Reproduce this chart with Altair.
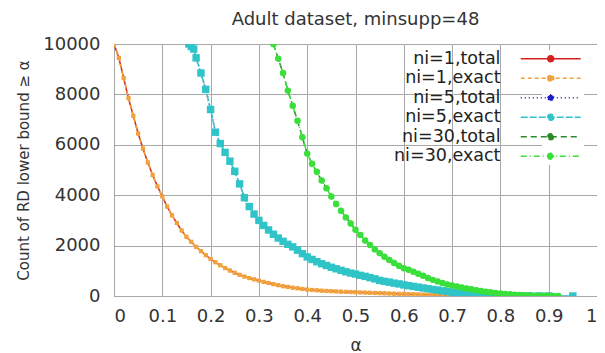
import altair as alt
import pandas as pd

names = ["ni=1,total", "ni=1,exact", "ni=5,total", "ni=5,exact", "ni=30,total", "ni=30,exact"]
colors = ["#d42020", "#f2a23c", "#1c1cc8", "#2ec4c8", "#2a8a2a", "#3ae03a"]
dashes = [[1, 0], [4, 3], [1, 3], [7, 2], [6, 4], [6, 3, 1, 3]]
shapes = ["circle", "square", "circle", "square", "circle", "circle"]
sizes = [12, 18, 30, 55, 30, 42]

x_ticks = [0, 0.1, 0.2, 0.3, 0.4, 0.5, 0.6, 0.7, 0.8, 0.9, 1.0]
y_ticks = [0, 2000, 4000, 6000, 8000, 10000]

alpha_ni1 = [0.00, 0.01, 0.02, 0.03, 0.04, 0.05, 0.06, 0.07, 0.08, 0.09,
             0.10, 0.11, 0.12, 0.13, 0.14, 0.15, 0.16, 0.17, 0.18, 0.19,
             0.20, 0.21, 0.22, 0.23, 0.24, 0.25, 0.26, 0.27, 0.28, 0.29,
             0.30, 0.31, 0.32, 0.33, 0.34, 0.35, 0.36, 0.37, 0.38, 0.39,
             0.40, 0.41, 0.42, 0.43, 0.44, 0.45, 0.46, 0.47, 0.48, 0.49,
             0.50, 0.51, 0.52, 0.53, 0.54, 0.55, 0.56, 0.57, 0.58, 0.59,
             0.60, 0.61, 0.62, 0.63, 0.64, 0.65, 0.66, 0.67, 0.68, 0.69,
             0.70, 0.71, 0.72, 0.73, 0.74, 0.75, 0.76, 0.77, 0.78, 0.79, 0.80]
count_ni1_exact = [10000, 9450, 8650, 7850, 7150, 6450, 5850, 5300, 4800, 4350,
                   3950, 3550, 3200, 2900, 2600, 2350, 2150, 1950, 1780, 1620,
                   1470, 1340, 1220, 1110, 1010, 920, 840, 770, 710, 660,
                   610, 560, 515, 470, 430, 390, 360, 330, 305, 280,
                   255, 240, 225, 212, 200, 190, 180, 172, 165, 158,
                   150, 142, 135, 128, 120, 113, 106, 99, 92, 86,
                   80, 74, 68, 62, 56, 50, 45, 40, 35, 30,
                   26, 22, 19, 16, 13, 11, 9, 7, 5, 3, 2]
count_ni1_total = list(count_ni1_exact)

alpha_ni5 = [0.155, 0.16, 0.165, 0.17, 0.18, 0.19,
             0.20, 0.21, 0.22, 0.23, 0.24, 0.25, 0.26, 0.27, 0.28, 0.29,
             0.30, 0.31, 0.32, 0.33, 0.34, 0.35, 0.36, 0.37, 0.38, 0.39,
             0.40, 0.41, 0.42, 0.43, 0.44, 0.45, 0.46, 0.47, 0.48, 0.49,
             0.50, 0.51, 0.52, 0.53, 0.54, 0.55, 0.56, 0.57, 0.58, 0.59,
             0.60, 0.61, 0.62, 0.63, 0.64, 0.65, 0.66, 0.67, 0.68, 0.69,
             0.70, 0.71, 0.72, 0.73, 0.74, 0.75, 0.76, 0.77, 0.78, 0.79,
             0.80, 0.82, 0.84, 0.86, 0.88, 0.90, 0.95]
count_ni5_exact = [10000, 9900, 9800, 9450, 8850, 8200,
                   7400, 6500, 6050, 5700, 5350, 4950, 4450, 3900, 3550, 3250,
                   3000, 2800, 2620, 2450, 2300, 2170, 2050, 1950, 1820, 1680,
                   1550, 1450, 1360, 1280, 1210, 1140, 1080, 1020, 960, 910,
                   870, 820, 780, 730, 680, 620, 580, 550, 510, 480,
                   440, 410, 380, 350, 320, 290, 260, 235, 205, 180,
                   150, 125, 105, 85, 65, 50, 38, 28, 20, 14,
                   10, 6, 4, 3, 2, 1, 0]
count_ni5_total = list(count_ni5_exact)

alpha_ni30 = [0.33, 0.34, 0.35, 0.36, 0.37, 0.38, 0.39,
              0.40, 0.41, 0.42, 0.43, 0.44, 0.45, 0.46, 0.47, 0.48, 0.49,
              0.50, 0.51, 0.52, 0.53, 0.54, 0.55, 0.56, 0.57, 0.58, 0.59,
              0.60, 0.61, 0.62, 0.63, 0.64, 0.65, 0.66, 0.67, 0.68, 0.69,
              0.70, 0.71, 0.72, 0.73, 0.74, 0.75, 0.76, 0.77, 0.78, 0.79,
              0.80, 0.81, 0.82, 0.83, 0.84, 0.85, 0.86, 0.87, 0.88, 0.89,
              0.90, 0.91, 0.92]
count_ni30_exact = [10000, 9420, 8850, 8150, 7550, 6950, 6300,
                    5650, 5250, 4930, 4580, 4280, 3950, 3650, 3380, 3120, 2880,
                    2630, 2420, 2200, 2020, 1850, 1700, 1560, 1430, 1310, 1200,
                    1100, 1040, 960, 880, 800, 710, 640, 580, 520, 460,
                    420, 380, 340, 300, 265, 230, 200, 170, 145, 120,
                    95, 80, 65, 50, 38, 28, 20, 14, 10, 7,
                    5, 3, 2]
count_ni30_total = list(count_ni30_exact)

series_alpha = [alpha_ni1, alpha_ni1, alpha_ni5, alpha_ni5, alpha_ni30, alpha_ni30]
series_count = [count_ni1_total, count_ni1_exact, count_ni5_total, count_ni5_exact,
                count_ni30_total, count_ni30_exact]

rows = []
for n, xs, ys in zip(names, series_alpha, series_count):
    for k, (a, c) in enumerate(zip(xs, ys)):
        rows.append({"series": n, "alpha": a, "count": c, "order": k})
df = pd.DataFrame(rows)

FONT = "DejaVu Sans"
color_scale = alt.Scale(domain=names, range=colors)
dash_scale = alt.Scale(domain=names, range=dashes)

legend = alt.Legend(
    title=None, orient="none", legendX=428, legendY=6,
    symbolType="M-6,0L6,0M-0.6,0A0.6,0.6,0,1,1,0.6,0A0.6,0.6,0,1,1,-0.6,0",
    symbolSize=100, symbolStrokeWidth=1.5,
    labelAlign="right", labelOffset={"expr": "-59"}, labelFont=FONT, labelFontSize=17.5,
    labelColor="#222", labelLimit=300, rowPadding=0.5, padding=0,
    fillColor="white",
)

x_enc = alt.X("alpha:Q", scale=alt.Scale(domain=[0, 1], nice=False, zero=False),
              axis=alt.Axis(values=x_ticks, format=".1~f", title="α"))
y_enc = alt.Y("count:Q", scale=alt.Scale(domain=[0, 10000], nice=False),
              axis=alt.Axis(values=y_ticks, format="d", title="Count of RD lower bound ≥ α"))

layers = []
for i, n in enumerate(names):
    base = alt.Chart(df).transform_filter(alt.datum.series == n)
    line = base.mark_line(strokeWidth=1.5, clip=True).encode(
        x=x_enc, y=y_enc, order="order:Q",
        color=alt.Color("series:N", scale=color_scale, legend=legend),
        strokeDash=alt.StrokeDash("series:N", scale=dash_scale, legend=legend),
    )
    pts = base.mark_point(filled=True, shape=shapes[i], size=sizes[i], opacity=1, clip=True).encode(
        x=x_enc, y=y_enc,
        color=alt.Color("series:N", scale=color_scale, legend=None),
    )
    layers += [line, pts]

chart = alt.layer(*layers).properties(
    width=483, height=252,
    title=alt.TitleParams("Adult dataset, minsupp=48", font=FONT, fontSize=18,
                          fontWeight="normal", color="#333", anchor="middle", offset=6),
    autosize=alt.AutoSizeParams(type="none"),
    padding={"left": 106, "top": 36, "right": 0, "bottom": 62},
).configure_view(
    stroke="#888", strokeWidth=1
).configure_axis(
    domain=False, ticks=False, grid=True, gridColor="#a8a8a8", gridWidth=1,
    labelFont=FONT, labelFontSize=18, labelColor="#333",
    titleFont=FONT, titleFontWeight="normal", titleColor="#333",
).configure_axisX(
    labelPadding=11, titleFontSize=17, titlePadding=12,
).configure_axisY(
    labelPadding=14, titleFontSize=15, titlePadding=11,
)

chart.save("out.html", embed_options={"renderer": "svg", "actions": False})
